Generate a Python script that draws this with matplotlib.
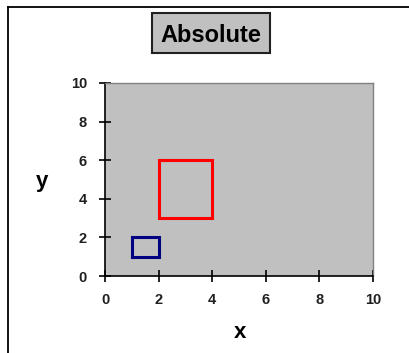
import matplotlib
matplotlib.use("Agg")
import matplotlib.pyplot as plt
from matplotlib.lines import Line2D
from matplotlib.patches import Rectangle

plt.rcParams["font.family"] = ["Liberation Sans", "DejaVu Sans"]

# --- data ---
TITLE = "Absolute"
X_LABEL = "x"
Y_LABEL = "y"
TICKS = [0, 2, 4, 6, 8, 10]
# rectangles as closed outlines (x, y)
BLUE_X = [1, 2, 2, 1, 1]
BLUE_Y = [1, 1, 2, 2, 1]
RED_X = [2, 4, 4, 2, 2]
RED_Y = [3, 3, 6, 6, 3]

W, H = 409, 353
fig = plt.figure(figsize=(W / 100, H / 100), dpi=100)
fig.patch.set_facecolor("white")

# chart frame (runs off the right and bottom edges)
fig.add_artist(Line2D([8 / W, 8 / W], [1 - 7 / H, -0.05], color="black", lw=1.3))
fig.add_artist(Line2D([8 / W, 1.05], [1 - 7 / H, 1 - 7 / H], color="black", lw=1.3))

ax = fig.add_axes([105 / W, 1 - 276 / H, 268 / W, 193 / H])
ax.set_facecolor("#c0c0c0")
ax.plot(RED_X, RED_Y, color="#ff0000", lw=2.2, solid_joinstyle="miter")
ax.plot(BLUE_X, BLUE_Y, color="#000080", lw=2.2, solid_joinstyle="miter")

ax.set_xlim(0, 10)
ax.set_ylim(0, 10)
ax.set_xticks(TICKS)
ax.set_yticks(TICKS)
ax.tick_params(direction="inout", length=8, width=1.2, labelsize=10.5)
ax.tick_params(axis="x", pad=8)
ax.tick_params(axis="y", pad=9)
for lab in ax.get_xticklabels() + ax.get_yticklabels():
    lab.set_fontweight("bold")
    lab.set_color("#202020")
for side in ("top", "right"):
    ax.spines[side].set_color("#808080")
    ax.spines[side].set_linewidth(1.0)
for side in ("left", "bottom"):
    ax.spines[side].set_color("black")
    ax.spines[side].set_linewidth(1.2)

fig.text(42 / W, 1 - 182 / H, Y_LABEL, fontsize=16, fontweight="bold",
         ha="center", va="center")
fig.text(240 / W, 1 - 333 / H, X_LABEL, fontsize=16, fontweight="bold",
         ha="center", va="center")

# title box
fig.add_artist(Rectangle((152 / W, 1 - 53 / H), 118 / W, 40 / H,
                         transform=fig.transFigure, facecolor="#c0c0c0",
                         edgecolor="#202020", linewidth=1.5))
fig.text(211 / W, 1 - 35 / H, TITLE, fontsize=17, fontweight="bold",
         ha="center", va="center")

fig.savefig("out.png", dpi=100)
